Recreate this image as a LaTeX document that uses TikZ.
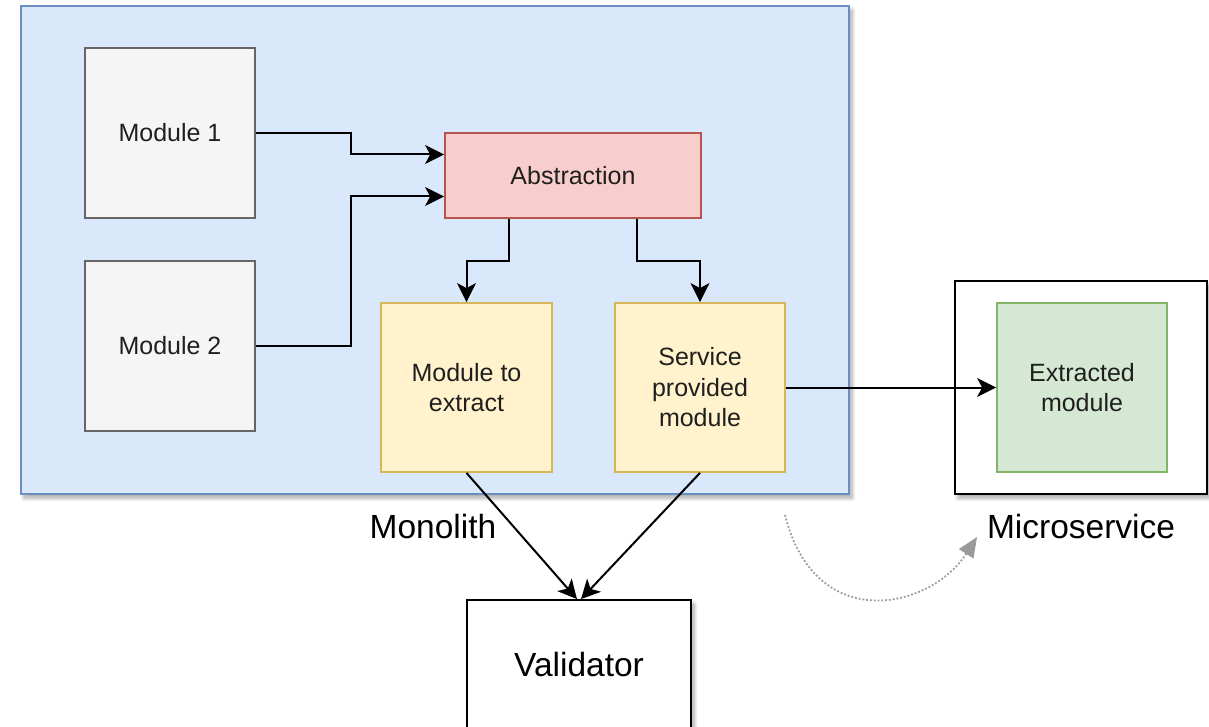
\documentclass[tikz,border=0pt]{standalone}
\usepackage{fontspec}
\setmainfont{Liberation Sans}
\usetikzlibrary{arrows.meta,calc,shadows,shadows.blur,positioning}
\definecolor{monofill}{HTML}{DAE8FC}
\definecolor{monodraw}{HTML}{6C8EBF}
\definecolor{grayfill}{HTML}{F5F5F5}
\definecolor{graydraw}{HTML}{666666}
\definecolor{redfill}{HTML}{F8CECC}
\definecolor{reddraw}{HTML}{B85450}
\definecolor{yelfill}{HTML}{FFF2CC}
\definecolor{yeldraw}{HTML}{D6B656}
\definecolor{grnfill}{HTML}{D5E8D4}
\definecolor{grndraw}{HTML}{82B366}
\definecolor{txt}{HTML}{1F1F1F}
\definecolor{dotgray}{HTML}{9A9A9A}
\definecolor{shadowcol}{HTML}{5A5F7A}
\tikzset{
  box/.style={draw, line width=1.8pt, align=center, inner sep=0pt, text=txt,
    font=\fontsize{25}{30.5}\selectfont},
  bigshadow/.style={blur shadow={shadow xshift=3pt, shadow yshift=-4pt, shadow blur radius=4pt,
    shadow blur steps=8, shadow opacity=35, shadow blur extra rounding=0pt}},
  arr/.style={line width=2pt, -{Stealth[length=19pt,width=19pt,inset=5pt]}},
  biglabel/.style={font=\fontsize{33.5}{40}\selectfont, text=black, inner sep=0pt},
}
\begin{document}
\begin{tikzpicture}[x=1pt,y=-1pt]
\useasboundingbox (0,0) rectangle (1209,727);
% containers
\node[box, bigshadow, fill=monofill, draw=monodraw, minimum width=828, minimum height=488] (mono) at (435,250) {};
\node[box, bigshadow, fill=white, draw=black, minimum width=252, minimum height=213] (micro) at (1081,387.5) {};
\node[box, bigshadow, fill=white, draw=black, minimum width=224, minimum height=130,
  font=\fontsize{33.5}{40}\selectfont, text=black] (val) at (579,665) {Validator};
% inner boxes
\node[box, fill=grayfill, draw=graydraw, minimum width=170, minimum height=170] (m1) at (170,133) {Module 1};
\node[box, fill=grayfill, draw=graydraw, minimum width=170, minimum height=170] (m2) at (170,346) {Module 2};
\node[box, fill=redfill, draw=reddraw, minimum width=256, minimum height=85] (abs) at (573,175.5) {Abstraction};
\node[box, fill=yelfill, draw=yeldraw, minimum width=171, minimum height=169] (mte) at (466.5,387.5) {Module to\\extract};
\node[box, fill=yelfill, draw=yeldraw, minimum width=170, minimum height=169] (spm) at (700,387.5) {Service\\provided\\module};
\node[box, fill=grnfill, draw=grndraw, minimum width=170, minimum height=169] (ext) at (1082,387.5) {Extracted\\module};
% labels
\node[biglabel] (lmono) at (433,527) {Monolith};
\node[biglabel] (lmicro) at (1081,527) {Microservice};
% connectors
\draw[arr] (m1.east) -- ++(95,0) |- ($(abs.west)+(0,-21)$);
\draw[arr] (m2.east) -- ++(95,0) |- ($(abs.west)+(0,21)$);
\draw[arr] ($(abs.south)+(-64,0)$) -- ++(0,42) -| (mte.north);
\draw[arr] ($(abs.south)+(64,0)$) -- ++(0,42) -| (spm.north);
\draw[arr] (spm.east) -- (ext.west);
\draw[arr] (mte.south) -- ($(val.north)+(-2,0)$);
\draw[arr] (spm.south) -- ($(val.north)+(2,0)$);
% dotted transition arrow
\coordinate (ds) at (785,515);
\coordinate (de) at (977,537);
\draw[dotgray, line width=1.8pt, dotted, -{Stealth[length=20pt,width=17pt,inset=0pt,fill=dotgray]}]
  (ds) .. controls (815,635) and (930,610) .. (de);
\end{tikzpicture}
\end{document}
